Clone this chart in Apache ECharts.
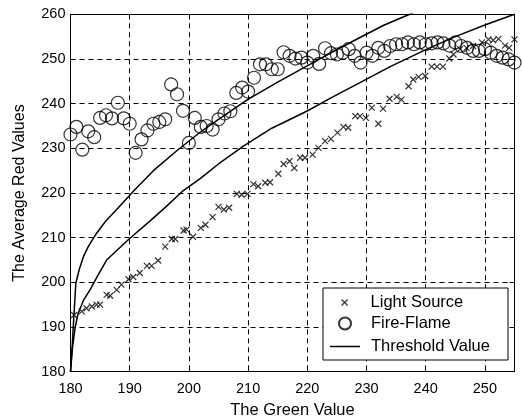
<!DOCTYPE html>
<html><head><meta charset="utf-8">
<script src="https://cdn.jsdelivr.net/npm/echarts@6/dist/echarts.min.js"></script>
<style>html,body{margin:0;padding:0;background:#fff}#c{width:522px;height:417px}</style>
</head><body><div id="c"></div>
<script>
// ---- data ----
const xTickValues = [180, 190, 200, 210, 220, 230, 240, 250];
const yTickValues = [180, 190, 200, 210, 220, 230, 240, 250, 260];

const lightX = [180.6,181.9,182.7,183.6,184.4,185.0,186.1,186.7,187.8,188.6,189.8,190.6,191.7,192.9,193.7,194.8,196.0,197.1,197.7,199.1,199.6,200.7,202.0,202.8,204.0,205.0,205.9,206.8,208.1,208.9,209.9,210.9,211.7,212.9,213.7,215.1,216.0,217.0,217.8,218.8,219.6,220.9,221.9,223.0,224.0,225.1,226.1,226.9,228.1,228.9,229.9,230.9,232.0,232.8,233.9,235.1,235.9,237.1,237.9,238.8,239.9,241.0,241.9,242.9,244.0,244.7,245.8,246.9,248.0,249.5,250.6,251.4,252.3,253.4,254.1,255.0];
const lightY = [192.7,193.5,194.2,194.6,195.0,195.0,197.2,197.0,198.3,199.5,200.7,201.2,202.1,203.7,203.7,204.9,208.0,209.7,209.7,211.6,211.8,210.2,212.2,212.9,214.6,216.9,216.3,216.7,219.8,219.6,219.8,222.0,221.5,222.3,222.4,224.3,226.5,227.1,225.6,227.9,227.9,228.6,230.1,231.6,232.1,233.5,234.8,234.6,237.2,237.2,236.8,239.1,235.5,238.9,241.1,241.5,240.9,243.9,245.4,246.0,246.2,248.3,248.3,248.3,250.1,251.0,252.2,252.5,252.9,253.7,254.4,254.2,254.5,253.0,252.5,254.4];

const flameX = [180,181,182,183,184,185,186,187,188,189,190,191,192,193,194,195,196,197,198,199,200,201,202,203,204,205,206,207,208,209,210,211,212,213,214,215,216,217,218,219,220,221,222,223,224,225,226,227,228,229,230,231,232,233,234,235,236,237,238,239,240,241,242,243,244,245,246,247,248,249,250,251,252,253,254,255];
const flameY = [233.1,234.8,229.7,233.8,232.5,236.8,237.4,236.7,240.2,236.7,235.5,229.0,232.0,234.0,235.5,235.9,236.5,244.3,242.1,238.4,231.2,236.8,234.8,235.0,234.2,236.5,237.8,238.3,242.4,243.6,242.7,245.8,248.8,248.8,247.7,247.7,251.5,250.7,250.1,250.3,249.2,250.7,248.9,252.4,251.3,251.0,251.4,252.2,250.7,249.2,251.4,250.7,252.5,251.8,252.9,253.3,253.3,253.7,253.3,253.7,253.3,253.5,253.7,253.5,253.0,253.7,252.9,252.5,251.8,251.8,252.2,251.4,250.7,250.3,249.9,249.2];

const upperX = [180,180.3,180.5,180.9,181.5,182.2,183,184.4,186,187.8,190.9,194,197.9,201.9,205,209.9,215,219.9,224,228.9,233,237.3,240];
const upperY = [180,186,190.8,199.8,203,205.8,208,211,213.8,216.3,220.8,225,229.4,233.6,236.5,240.9,244.8,248.4,251.4,254.8,257.6,260,261.6];

const lowerX = [180,180.3,180.8,181.3,182.2,183.3,184.6,186.1,189.8,193.4,196.2,199,201.9,205,209.2,214,219.9,224,228.9,234,240.2,245,250,255];
const lowerY = [180,185,190,193.1,196,198.3,201.5,205,209.6,213.7,217,220.5,223.2,226.5,230.5,234.5,238.3,241.3,244.7,248.3,252.2,255,257.6,260];

const seriesNames = ['Light Source', 'Fire-Flame', 'Threshold Value'];
const xTitle = 'The Green Value';
const yTitle = 'The Average Red Values';

// ---- chart ----
const zip = (xs, ys) => xs.map((x, i) => [x, ys[i]]);
const FONT = 'Liberation Sans, Arial, sans-serif';
const crossPath = 'path://M0,0L10,10M0,10L10,0';
const linePath = 'path://M0,0H30V1.5H0Z';

const chart = echarts.init(document.getElementById('c'), null, {renderer: 'canvas'});

const baseX = {
  type: 'value', min: 180, max: 255, interval: 10,
  axisLine: {show: true, lineStyle: {color: '#000', width: 1}},
  axisTick: {show: true, inside: true, length: 5, lineStyle: {color: '#000'}},
};
const baseY = {
  type: 'value', min: 180, max: 260, interval: 10,
  axisLine: {show: true, lineStyle: {color: '#000', width: 1}},
  axisTick: {show: true, inside: true, length: 5, lineStyle: {color: '#000'}},
};
const legendText = {color: '#000', fontSize: 16.5, fontFamily: FONT, lineHeight: 16, padding: [0, 0, 0, 6]};

chart.setOption({
  animation: false,
  backgroundColor: '#fff',
  textStyle: {fontFamily: FONT},
  grid: {left: 70.5, right: 7.5, top: 14.3, bottom: 45.3, show: false, containLabel: false, outerBoundsMode: 'none'},
  xAxis: [
    Object.assign({}, baseX, {
      position: 'bottom',
      name: xTitle, nameLocation: 'middle', nameGap: 29,
      nameTextStyle: {color: '#000', fontSize: 16.5, fontFamily: FONT},
      axisLabel: {color: '#000', fontSize: 14.5, fontFamily: FONT, margin: 10, showMaxLabel: false,
        formatter: v => xTickValues.includes(v) ? String(v) : ''},
      splitLine: {show: true, lineStyle: {color: '#000', type: [5, 4], width: 1}}
    }),
    Object.assign({}, baseX, {
      position: 'top', axisLabel: {show: false}, splitLine: {show: false}
    })
  ],
  yAxis: [
    Object.assign({}, baseY, {
      position: 'left',
      name: yTitle, nameLocation: 'middle', nameGap: 43,
      nameTextStyle: {color: '#000', fontSize: 16, fontFamily: FONT},
      axisLabel: {color: '#000', fontSize: 14.5, fontFamily: FONT, margin: 5,
        formatter: v => yTickValues.includes(v) ? String(v) : ''},
      splitLine: {show: true, lineStyle: {color: '#000', type: [5, 4], width: 1}}
    }),
    Object.assign({}, baseY, {
      position: 'right', axisLabel: {show: false}, splitLine: {show: false}
    })
  ],
  legend: [
    {
      data: [{name: seriesNames[0], icon: crossPath}], left: 341, top: 294, padding: 0, z: 6,
      itemWidth: 30, itemHeight: 6,
      itemStyle: {color: 'rgba(0,0,0,0)', borderColor: '#000', borderWidth: 1.2},
      textStyle: legendText
    },
    {
      data: [seriesNames[1], {name: seriesNames[2], icon: linePath, itemStyle: {color: '#000', borderWidth: 0}}],
      orient: 'vertical', left: 330, top: 315, padding: 0, z: 6,
      itemGap: 6, itemWidth: 30, itemHeight: 12,
      textStyle: legendText
    }
  ],
  graphic: [{
    type: 'rect', z: 5,
    shape: {x: 323, y: 288, width: 185, height: 72},
    style: {fill: '#fff', stroke: '#000', lineWidth: 1}
  }],
  series: [
    {
      name: seriesNames[0], type: 'scatter', data: zip(lightX, lightY),
      symbol: crossPath, symbolSize: 6,
      itemStyle: {color: 'rgba(0,0,0,0)', borderColor: '#000', borderWidth: 1.2}
    },
    {
      name: seriesNames[1], type: 'scatter', data: zip(flameX, flameY),
      symbol: 'circle', symbolSize: 13,
      itemStyle: {color: 'rgba(0,0,0,0)', borderColor: '#000', borderWidth: 1.2}
    },
    {
      name: seriesNames[2], type: 'line', data: zip(upperX, upperY), symbol: 'none',
      smooth: false, clip: true, lineStyle: {color: '#000', width: 1.5}, itemStyle: {color: '#000'}
    },
    {
      name: seriesNames[2], type: 'line', data: zip(lowerX, lowerY), symbol: 'none',
      smooth: false, clip: true, lineStyle: {color: '#000', width: 1.5}, itemStyle: {color: '#000'}
    }
  ]
});
</script>
</body></html>
